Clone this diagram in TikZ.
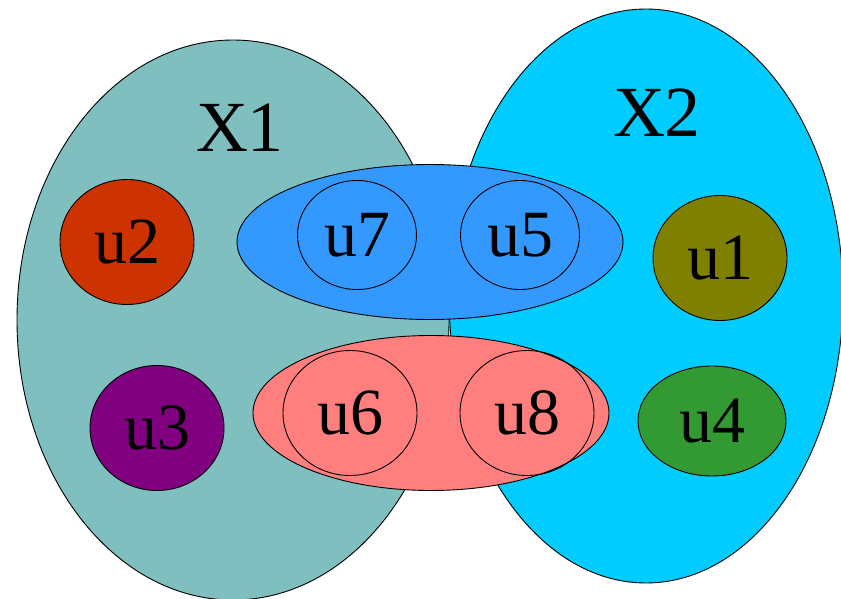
\documentclass[tikz,border=0pt]{standalone}
\usepackage{fontspec}
\setmainfont{Liberation Serif}
\usetikzlibrary{shapes.geometric}

\definecolor{setone}{HTML}{80BFBF}
\definecolor{settwo}{HTML}{00CCFF}
\definecolor{grpblue}{HTML}{3399FF}
\definecolor{grppink}{HTML}{FF7F7F}

\begin{document}
\begin{tikzpicture}[x=1pt, y=-1pt,
        blob/.style={ellipse, draw=black, line width=0.9pt, inner sep=0pt},
        elem/.style={blob, minimum width=134pt, minimum height=125pt, font=\fontsize{66}{66}\selectfont},
        setname/.style={font=\fontsize{72}{72}\selectfont}]
        % Fix the page size to the pixel frame of the reference
        \useasboundingbox (0,0) rectangle (841,599);
        
        % The two big sets
        \node[blob, fill=settwo, minimum width=394pt, minimum height=574pt] (X2) at (646,296) {};
        \node[blob, fill=setone, minimum width=432pt, minimum height=560pt] (X1) at (233,320) {};
        \node[setname] (X1lbl) at (240,128) {X1};
        \node[setname] (X2lbl) at (657,113) {X2};
        
        % Elements lying in only one set
        \node[elem, fill={rgb,255:red,204;green,51;blue,0}] (u2) at (127,242) {u2};
        \node[elem, fill={rgb,255:red,128;green,0;blue,128}] (u3) at (157,428) {u3};
        \node[elem, fill={rgb,255:red,128;green,128;blue,0}] (u1) at (720,258) {u1};
        \node[elem, fill={rgb,255:red,51;green,153;blue,51}, minimum width=148pt, minimum height=110pt] (u4) at (712,421) {u4};
        
        % Upper group shared by both sets
        \node[blob, fill=grpblue, minimum width=386pt, minimum height=155pt] (grpA) at (430,242) {};
        \node[elem, minimum width=119pt, minimum height=109pt] (u7) at (357,235) {u7};
        \node[elem, minimum width=119pt, minimum height=109pt] (u5) at (520,235) {u5};
        
        % Lower group shared by both sets
        \node[blob, fill=grppink, minimum width=356pt, minimum height=155pt] (grpB) at (431,413) {};
        \node[elem] (u6) at (350,413) {u6};
        \node[elem] (u8) at (527,413) {u8};
    \end{tikzpicture}
\end{document}
